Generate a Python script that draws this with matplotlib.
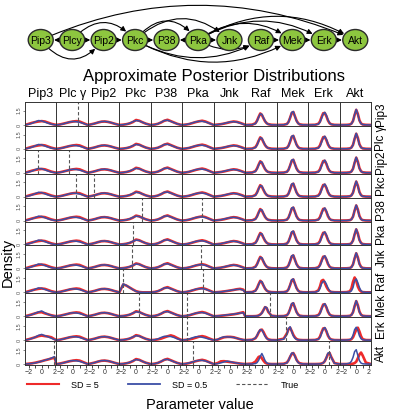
import matplotlib
matplotlib.use("Agg")
import matplotlib.pyplot as plt
from matplotlib.patches import Ellipse, FancyArrowPatch
from matplotlib.lines import Line2D

plt.rcParams['font.family'] = ['Liberation Sans Narrow', 'DejaVu Sans Condensed', 'Liberation Sans', 'DejaVu Sans']

# ---- data ----
nodes = ['Pip3', 'Plcγ', 'Pip2', 'Pkc', 'P38', 'Pka', 'Jnk', 'Raf', 'Mek', 'Erk', 'Akt']
top_labels = ['Pip3', 'Plc γ', 'Pip2', 'Pkc', 'P38', 'Pka', 'Jnk', 'Raf', 'Mek', 'Erk', 'Akt']
side_labels = ['Pip3', 'Plc γ', 'Pip2', 'Pkc', 'P38', 'Pka', 'Jnk', 'Raf', 'Mek', 'Erk', 'Akt']

# network edges (parent, child)
edges = [('Plcγ', 'Pip3'), ('Plcγ', 'Pip2'), ('Pip3', 'Pip2'), ('Plcγ', 'Pkc'), ('Pip2', 'Pkc'),
         ('Pkc', 'P38'), ('Pka', 'P38'), ('Pkc', 'Pka'), ('Pkc', 'Jnk'), ('Pka', 'Jnk'),
         ('Pkc', 'Raf'), ('Pka', 'Raf'), ('Pkc', 'Mek'), ('Pka', 'Mek'), ('Raf', 'Mek'),
         ('Pka', 'Erk'), ('Mek', 'Erk'), ('Pip3', 'Akt'), ('Pka', 'Akt'), ('Erk', 'Akt')]

# true parameter values (row = child, col = parent)
true_values = {('Pip3', 'Plcγ'): 0.8,
               ('Pip2', 'Pip3'): -0.5, ('Pip2', 'Plcγ'): -0.6,
               ('Pkc', 'Plcγ'): 0.5, ('Pkc', 'Pip2'): -1.6,
               ('P38', 'Pkc'): 0.9, ('P38', 'Pka'): 0.4,
               ('Pka', 'Pkc'): -0.5,
               ('Jnk', 'Pkc'): -0.6, ('Jnk', 'Pka'): 0.3,
               ('Raf', 'Pkc'): -2.1, ('Raf', 'Pka'): 0.6,
               ('Mek', 'Pkc'): 0.5, ('Mek', 'Pka'): -1.8, ('Mek', 'Raf'): 1.2,
               ('Erk', 'Pka'): -1.8, ('Erk', 'Mek'): -1.1,
               ('Akt', 'Pip3'): 1.9, ('Akt', 'Pka'): -1.0, ('Akt', 'Erk'): 0.7}

xs_broad = [-2.6, -2.0, -1.5, -1.0, -0.5, 0.0, 0.5, 1.0, 1.5, 2.0, 2.3]
xs_narrow = [-2.6, -1.5, -1.0, -0.75, -0.5, -0.25, 0.0, 0.25, 0.5, 0.75, 1.0, 1.5, 2.3]
broad_cols = ['Pip3', 'Plcγ', 'Pip2', 'Pkc', 'P38', 'Pka', 'Jnk']

# typical posterior densities per column (SD = 5 red, SD = 0.5 blue)
col_red = {
    'Pip3': [0, 0.12, 0.22, 0.30, 0.36, 0.40, 0.36, 0.24, 0.12, 0.04, 0],
    'Plcγ': [0, 0.06, 0.14, 0.22, 0.30, 0.36, 0.40, 0.36, 0.22, 0.08, 0],
    'Pip2': [0, 0.08, 0.16, 0.26, 0.34, 0.36, 0.32, 0.24, 0.14, 0.05, 0],
    'Pkc':  [0, 0.03, 0.08, 0.16, 0.30, 0.52, 0.44, 0.28, 0.14, 0.05, 0],
    'P38':  [0, 0.04, 0.12, 0.26, 0.44, 0.54, 0.40, 0.26, 0.12, 0.03, 0],
    'Pka':  [0, 0.04, 0.10, 0.20, 0.30, 0.38, 0.44, 0.36, 0.22, 0.08, 0],
    'Jnk':  [0, 0.04, 0.08, 0.14, 0.22, 0.30, 0.36, 0.32, 0.22, 0.10, 0],
    'Raf':  [0, 0.03, 0.18, 0.45, 0.85, 1.20, 1.05, 0.70, 0.38, 0.18, 0.08, 0.02, 0],
    'Mek':  [0, 0.02, 0.10, 0.32, 0.75, 1.25, 1.35, 0.90, 0.45, 0.18, 0.06, 0.01, 0],
    'Erk':  [0, 0.02, 0.12, 0.36, 0.82, 1.22, 1.25, 0.92, 0.46, 0.18, 0.07, 0.01, 0],
    'Akt':  [0, 0.01, 0.04, 0.14, 0.42, 1.05, 1.58, 1.15, 0.48, 0.16, 0.05, 0.01, 0],
}
col_blue = {
    'Pip3': [0, 0.08, 0.18, 0.32, 0.46, 0.42, 0.30, 0.18, 0.08, 0.02, 0],
    'Plcγ': [0, 0.05, 0.12, 0.22, 0.32, 0.36, 0.34, 0.28, 0.18, 0.06, 0],
    'Pip2': [0, 0.07, 0.16, 0.27, 0.35, 0.37, 0.33, 0.25, 0.14, 0.05, 0],
    'Pkc':  [0, 0.03, 0.08, 0.18, 0.34, 0.46, 0.42, 0.28, 0.14, 0.04, 0],
    'P38':  [0, 0.04, 0.12, 0.28, 0.46, 0.48, 0.38, 0.24, 0.12, 0.03, 0],
    'Pka':  [0, 0.05, 0.12, 0.22, 0.32, 0.38, 0.38, 0.32, 0.20, 0.07, 0],
    'Jnk':  [0, 0.04, 0.08, 0.16, 0.24, 0.32, 0.34, 0.30, 0.20, 0.08, 0],
    'Raf':  [0, 0.03, 0.14, 0.40, 0.82, 1.15, 1.12, 0.75, 0.40, 0.18, 0.07, 0.01, 0],
    'Mek':  [0, 0.02, 0.09, 0.30, 0.78, 1.32, 1.40, 0.88, 0.42, 0.16, 0.05, 0.01, 0],
    'Erk':  [0, 0.02, 0.09, 0.28, 0.70, 1.15, 1.32, 1.00, 0.52, 0.20, 0.06, 0.01, 0],
    'Akt':  [0, 0.01, 0.04, 0.12, 0.40, 1.10, 1.62, 1.10, 0.45, 0.14, 0.04, 0.01, 0],
}

# panels that differ from their column's typical shape (row, col)
cell_red = {
    ('Raf', 'Pkc'): [0, 0.82, 0.70, 0.50, 0.30, 0.12, 0.03, 0, 0, 0, 0],
    ('Akt', 'Pip3'): [0, 0.04, 0.08, 0.14, 0.22, 0.30, 0.40, 0.48, 0.58, 0.66, 0],
    ('Erk', 'Pip3'): [0, 0.10, 0.20, 0.30, 0.42, 0.48, 0.42, 0.38, 0.30, 0.10, 0],
    ('Mek', 'Pip3'): [0, 0.10, 0.20, 0.30, 0.40, 0.42, 0.30, 0.20, 0.10, 0.03, 0],
    ('Mek', 'Jnk'): [0, 0.02, 0.05, 0.08, 0.12, 0.16, 0.20, 0.26, 0.34, 0.42, 0],
    ('Raf', 'Jnk'): [0, 0.02, 0.05, 0.09, 0.14, 0.19, 0.25, 0.32, 0.36, 0.28, 0],
    ('Erk', 'Jnk'): [0, 0.05, 0.18, 0.30, 0.34, 0.34, 0.30, 0.20, 0.10, 0.03, 0],
    ('Akt', 'Jnk'): [0, 0.10, 0.28, 0.30, 0.25, 0.20, 0.15, 0.10, 0.05, 0.02, 0],
    ('Erk', 'Pka'): [0, 0.03, 0.08, 0.15, 0.25, 0.36, 0.42, 0.34, 0.20, 0.07, 0],
    ('Erk', 'P38'): [0, 0.03, 0.08, 0.16, 0.28, 0.40, 0.50, 0.40, 0.22, 0.06, 0],
    ('Akt', 'Raf'): [0, 0.05, 0.25, 0.50, 0.75, 0.80, 0.60, 0.35, 0.15, 0.06, 0.02, 0, 0],
    ('Akt', 'Mek'): [0, 0.03, 0.15, 0.40, 0.75, 1.05, 1.15, 0.85, 0.45, 0.20, 0.08, 0.01, 0],
    ('Akt', 'Erk'): [0, 0, 0.01, 0.02, 0.05, 0.12, 0.30, 0.65, 1.05, 1.15, 0.75, 0.10, 0],
    ('Akt', 'Akt'): [0, 0, 0.01, 0.02, 0.04, 0.10, 0.25, 0.60, 1.00, 1.20, 0.90, 0.15, 0],
    ('Erk', 'Akt'): [0, 0.01, 0.03, 0.10, 0.30, 0.70, 1.10, 1.30, 0.90, 0.40, 0.10, 0.01, 0],
    ('Erk', 'Mek'): [0, 0.15, 0.70, 1.15, 1.30, 0.95, 0.55, 0.28, 0.12, 0.05, 0.02, 0, 0],
    ('Erk', 'Raf'): [0, 0.04, 0.20, 0.45, 0.80, 1.05, 1.10, 0.85, 0.50, 0.22, 0.08, 0.01, 0],
    ('Mek', 'Raf'): [0, 0, 0.01, 0.03, 0.08, 0.18, 0.35, 0.65, 0.95, 0.85, 0.45, 0.06, 0],
    ('Raf', 'Erk'): [0, 0.03, 0.20, 0.60, 1.20, 1.30, 1.00, 0.60, 0.30, 0.12, 0.04, 0.01, 0],
    ('Raf', 'Akt'): [0, 0.02, 0.10, 0.40, 1.10, 1.55, 1.20, 0.60, 0.25, 0.08, 0.02, 0, 0],
}
cell_blue = {
    ('Raf', 'Pkc'): [0, 0.88, 0.72, 0.50, 0.28, 0.10, 0.02, 0, 0, 0, 0],
    ('Akt', 'Pip3'): [0, 0.03, 0.06, 0.12, 0.20, 0.30, 0.40, 0.50, 0.62, 0.78, 0],
    ('Erk', 'Pip3'): [0, 0.08, 0.18, 0.32, 0.50, 0.60, 0.46, 0.34, 0.20, 0.06, 0],
    ('Mek', 'Pip3'): [0, 0.08, 0.18, 0.32, 0.45, 0.55, 0.35, 0.20, 0.08, 0.02, 0],
    ('Mek', 'Jnk'): [0, 0.03, 0.06, 0.10, 0.14, 0.18, 0.22, 0.27, 0.32, 0.36, 0],
    ('Raf', 'Jnk'): [0, 0.02, 0.05, 0.10, 0.15, 0.20, 0.26, 0.30, 0.32, 0.22, 0],
    ('Erk', 'Jnk'): [0, 0.06, 0.25, 0.34, 0.34, 0.32, 0.28, 0.20, 0.10, 0.03, 0],
    ('Akt', 'Jnk'): [0, 0.04, 0.12, 0.22, 0.30, 0.24, 0.16, 0.10, 0.05, 0.02, 0],
    ('Erk', 'Pka'): [0, 0.05, 0.12, 0.25, 0.35, 0.38, 0.30, 0.22, 0.12, 0.05, 0],
    ('Erk', 'P38'): [0, 0.04, 0.12, 0.28, 0.40, 0.40, 0.38, 0.28, 0.14, 0.04, 0],
    ('Akt', 'Raf'): [0, 0.01, 0.05, 0.15, 0.40, 0.80, 1.10, 0.75, 0.35, 0.12, 0.04, 0, 0],
    ('Akt', 'Mek'): [0, 0.02, 0.12, 0.38, 0.80, 1.15, 1.15, 0.80, 0.40, 0.16, 0.06, 0.01, 0],
    ('Akt', 'Erk'): [0, 0, 0.01, 0.02, 0.05, 0.12, 0.30, 0.70, 1.15, 1.20, 0.70, 0.08, 0],
    ('Akt', 'Akt'): [0, 0.02, 0.10, 0.30, 0.70, 1.30, 1.50, 0.90, 0.35, 0.10, 0.03, 0, 0],
    ('Erk', 'Akt'): [0, 0.01, 0.05, 0.15, 0.50, 1.10, 1.35, 1.00, 0.45, 0.15, 0.04, 0, 0],
    ('Erk', 'Mek'): [0, 0.10, 0.60, 1.20, 1.40, 0.90, 0.45, 0.20, 0.08, 0.03, 0.01, 0, 0],
    ('Erk', 'Raf'): [0, 0.04, 0.22, 0.50, 0.85, 1.10, 1.05, 0.75, 0.40, 0.18, 0.06, 0.01, 0],
    ('Mek', 'Raf'): [0, 0, 0.01, 0.03, 0.07, 0.16, 0.32, 0.62, 0.98, 0.90, 0.50, 0.06, 0],
    ('Raf', 'Erk'): [0, 0.02, 0.12, 0.40, 0.90, 1.15, 1.15, 0.85, 0.45, 0.16, 0.05, 0.01, 0],
    ('Raf', 'Akt'): [0, 0.01, 0.05, 0.15, 0.50, 1.20, 1.40, 1.00, 0.50, 0.15, 0.04, 0, 0],
}

# curvature of the network arrows (0 = straight)
edge_rad = {('Plcγ', 'Pkc'): -0.55, ('Pip3', 'Pip2'): 0.6, ('Pkc', 'Pka'): -0.6,
            ('Pkc', 'Jnk'): -0.45, ('Pkc', 'Raf'): 0.28, ('Pka', 'Raf'): 0.3,
            ('Pkc', 'Mek'): 0.28, ('Pka', 'Mek'): -0.35, ('Pka', 'Erk'): -0.3,
            ('Pip3', 'Akt'): -0.22, ('Pka', 'Akt'): -0.3}

# ---- layout (pixels) ----
W, H = 407, 415
gx0, gy0, gw, gh = 25, 102, 346, 263
n = len(nodes)
cw, ch = gw / n, gh / n
RED, BLUE, GREEN = '#ee2a2a', '#3b4ea6', '#8dc63f'

fig = plt.figure(figsize=(W / 100, H / 100), dpi=100)

# network
net = fig.add_axes([0, 1 - 64 / H, 1, 64 / H])
net.set_xlim(0, W)
net.set_ylim(64, 0)
net.axis('off')
patches = {}
for j, name in enumerate(nodes):
    cx = gx0 + (j + 0.5) * cw
    e = Ellipse((cx, 40), 25, 21, facecolor=GREEN, edgecolor='#2b2b2b', lw=1.0, zorder=3)
    net.add_patch(e)
    patches[name] = e
    net.text(cx, 40.5, name.replace('γ', 'y'), ha='center', va='center', fontsize=7.5, zorder=4)
for a, b in edges:
    pa, pb = patches[a], patches[b]
    arr = FancyArrowPatch(pa.center, pb.center, patchA=pa, patchB=pb, shrinkA=0, shrinkB=1,
                          connectionstyle=f"arc3,rad={edge_rad.get((a, b), 0)}",
                          arrowstyle='-|>,head_length=0.3,head_width=0.15',
                          mutation_scale=10, color='black', lw=0.8, zorder=2)
    net.add_patch(arr)

# posterior grid
for i, row in enumerate(nodes):
    for j, col in enumerate(nodes):
        ax = fig.add_axes([(gx0 + j * cw) / W, (H - gy0 - (i + 1) * ch) / H, cw / W, ch / H])
        xs = xs_broad if col in broad_cols else xs_narrow
        yr = cell_red.get((row, col), col_red[col])
        yb = cell_blue.get((row, col), col_blue[col])
        ax.plot(xs, yr, color=RED, lw=1.9)
        ax.plot(xs, yb, color=BLUE, lw=1.1)
        if (row, col) in true_values:
            ax.axvline(true_values[(row, col)], color='#555555', lw=0.8, ls=(0, (3, 2)))
        ax.set_xlim(-2.6, 2.3)
        ax.set_ylim(-0.1, 2.4)
        for s in ax.spines.values():
            s.set_color('#333333')
            s.set_linewidth(0.7)
        if j == 0:
            ax.set_yticks([0, 1.5])
            ax.set_yticklabels(['0', '1.5'], rotation=90, va='center', fontsize=4, color='#555555')
            ax.tick_params(axis='y', length=1.5, width=0.5, pad=1, colors='#555555')
        else:
            ax.set_yticks([])
        if i == n - 1:
            ax.set_xticks([-2, -1, 0, 1, 2])
            ax.set_xticklabels(['\u22122', '', '0', '', '2'], fontsize=5, color='#333333')
            ax.tick_params(axis='x', length=2, width=0.5, pad=1)
        else:
            ax.set_xticks([])
        if i == 0:
            ax.text(0.5, 1.1, top_labels[j], transform=ax.transAxes, ha='center', va='bottom', fontsize=9)
        if j == n - 1:
            ax.text(1.33, 0.5, side_labels[i], transform=ax.transAxes, ha='center', va='center',
                    rotation=90, fontsize=8.5)

fig.text(0.525, 1 - 76 / H, 'Approximate Posterior Distributions', ha='center', va='center', fontsize=12)
fig.text(8 / W, 1 - 262 / H, 'Density', ha='center', va='center', rotation=90, fontsize=10.5)
fig.text(0.49, 1 - 405 / H, 'Parameter value', ha='center', va='center', fontsize=10.5)

handles = [Line2D([], [], color=RED, lw=1.5), Line2D([], [], color=BLUE, lw=1.3),
           Line2D([], [], color='#555555', lw=0.8, ls=(0, (3, 2)))]
fig.legend(handles, ['SD = 5', 'SD = 0.5', 'True'], loc='center', bbox_to_anchor=(0.4, 1 - 385 / H),
           ncol=3, frameon=False, fontsize=6.5, handlelength=3.6, columnspacing=3.2, handletextpad=1.3)

fig.savefig('out.png', dpi=100)
